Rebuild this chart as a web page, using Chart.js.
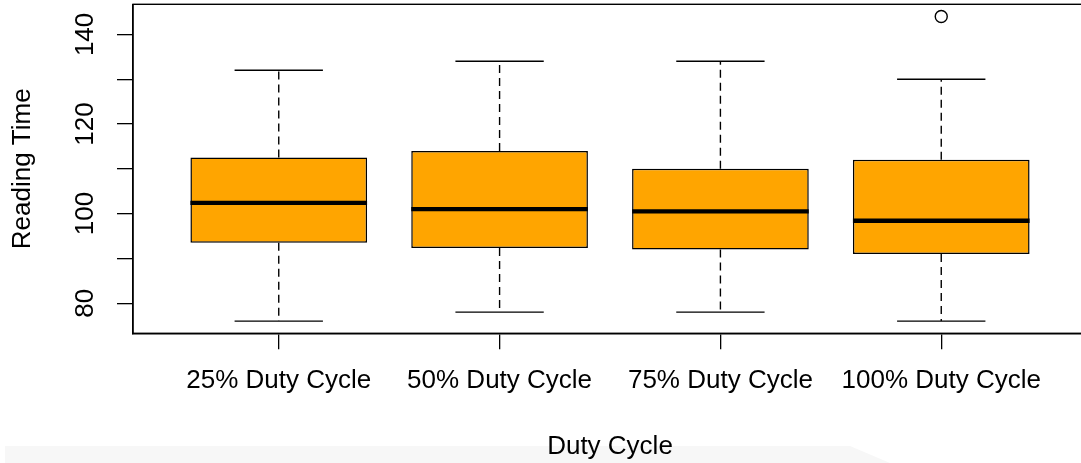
<!DOCTYPE html>
<html>
<head>
<meta charset="utf-8">
<script src="https://cdn.jsdelivr.net/npm/chart.js@4.4.1/dist/chart.umd.min.js"></script>
<style>
  html, body { margin: 0; padding: 0; background: #fff; overflow: hidden; width: 1081px; height: 463px; }
  #wrap { position: relative; width: 1081px; height: 463px; overflow: hidden; }
  #shade { position: absolute; left: 5px; top: 446px; width: 885px; height: 17px; background: #f7f7f7;
           clip-path: polygon(0 0, 845px 0, 885px 100%, 0 100%); }
  canvas { position: absolute; left: 0; top: 0; }
</style>
</head>
<body>
<div id="wrap">
  <div id="shade"></div>
  <canvas id="chart" width="1092" height="463"></canvas>
</div>
<script>
// Reading time by duty cycle: five-number summaries per group
const categories    = ['25% Duty Cycle', '50% Duty Cycle', '75% Duty Cycle', '100% Duty Cycle'];
const lowerWhisker  = [76, 78, 78, 76];
const firstQuartile = [93.5, 92.3, 92, 91];
const medians       = [102.4, 101, 100.5, 98.4];
const thirdQuartile = [112.5, 114, 110, 112];
const upperWhisker  = [132, 134, 134, 130];
const outliers      = [[], [], [], [144]];
const yTicks        = [80, 90, 100, 110, 120, 130, 140];
const yLabelTicks   = [80, 100, 120, 140];

const FONT = '"Liberation Sans", Arial, Helvetica, sans-serif';
const INK = '#000';
const BOX_FILL = '#FFA500';
const BOX_HALF = 0.4;   // half box width in category units
const CAP_HALF = 0.2;   // half whisker-cap width

// Axis ranges like base-graphics boxplot: data range padded by 4%
const allValues = lowerWhisker.concat(upperWhisker, outliers.flat());
const dMin = Math.min(...allValues), dMax = Math.max(...allValues);
const yPad = (dMax - dMin) * 0.04;
const xPad = categories.length * 0.04;

const positions = categories.map((_, i) => i + 1);

const boxData = positions.map((x, i) => ({ x, y: [firstQuartile[i], thirdQuartile[i]] }));
const medianData = positions.flatMap((x, i) => [
  { x: x - BOX_HALF, y: medians[i] }, { x: x + BOX_HALF, y: medians[i] }, { x: x + BOX_HALF, y: null }
]);
const whiskerData = positions.flatMap((x, i) => [
  { x, y: thirdQuartile[i] }, { x, y: upperWhisker[i] }, { x, y: null },
  { x, y: firstQuartile[i] }, { x, y: lowerWhisker[i] }, { x, y: null }
]);
const capData = positions.flatMap((x, i) => [
  { x: x - CAP_HALF, y: upperWhisker[i] }, { x: x + CAP_HALF, y: upperWhisker[i] }, { x: x + CAP_HALF, y: null },
  { x: x - CAP_HALF, y: lowerWhisker[i] }, { x: x + CAP_HALF, y: lowerWhisker[i] }, { x: x + CAP_HALF, y: null }
]);
const outlierData = positions.flatMap((x, i) => outliers[i].map(v => ({ x, y: v })));

// Plot frame and rotated y tick labels
const frameAndLabels = {
  id: 'frameAndLabels',
  afterDraw(chart) {
    const { ctx, chartArea: a, scales: { y } } = chart;
    ctx.save();
    ctx.strokeStyle = INK;
    ctx.lineWidth = 1.4;
    ctx.strokeRect(a.left, a.top, a.right - a.left, a.bottom - a.top);
    ctx.font = '26px ' + FONT;
    ctx.fillStyle = INK;
    ctx.textAlign = 'center';
    ctx.textBaseline = 'alphabetic';
    yLabelTicks.forEach(v => {
      const py = y.getPixelForValue(v);
      ctx.save();
      ctx.translate(y.right - 40, py);
      ctx.rotate(-Math.PI / 2);
      ctx.fillText(String(v), 0, 0);
      ctx.restore();
    });
    ctx.restore();
  }
};

new Chart(document.getElementById('chart'), {
  type: 'bar',
  data: {
    datasets: [
      { type: 'line', data: medianData, borderColor: INK, borderWidth: 4.3, borderCapStyle: 'butt',
        pointRadius: 0, pointHitRadius: 0, spanGaps: false, order: 0 },
      { type: 'scatter', data: outlierData, pointStyle: 'circle', pointRadius: 6,
        backgroundColor: 'rgba(0,0,0,0)', borderColor: INK, borderWidth: 1.4, order: 1 },
      { type: 'line', data: capData, borderColor: INK, borderWidth: 1.4,
        pointRadius: 0, pointHitRadius: 0, spanGaps: false, order: 2 },
      { type: 'line', data: whiskerData, borderColor: INK, borderWidth: 1.4, borderDash: [8, 5],
        pointRadius: 0, pointHitRadius: 0, spanGaps: false, order: 3 },
      { type: 'bar', data: boxData, backgroundColor: BOX_FILL, borderColor: INK, borderWidth: 1.5,
        borderSkipped: false, categoryPercentage: 1.0, barPercentage: 2 * BOX_HALF, order: 4 }
    ]
  },
  options: {
    responsive: false,
    animation: false,
    devicePixelRatio: 1,
    events: [],
    layout: { autoPadding: false, padding: { top: 4.3, left: 0, right: 5, bottom: 0 } },
    plugins: { legend: { display: false }, tooltip: { enabled: false } },
    scales: {
      x: {
        type: 'linear',
        offset: false,
        min: 0.5 - xPad,
        max: categories.length + 0.5 + xPad,
        afterBuildTicks: s => { s.ticks = positions.map(v => ({ value: v })); },
        afterFit: s => { s.height = 129.7; },
        ticks: {
          autoSkip: false, maxRotation: 0, minRotation: 0, padding: 16,
          color: INK, font: { family: FONT, size: 26 },
          callback: v => categories[v - 1] ?? ''
        },
        grid: { display: true, offset: false, drawOnChartArea: false, drawTicks: true, tickLength: 16, color: INK, lineWidth: 1.3 },
        border: { display: true, color: INK, width: 1.4 },
        title: { display: true, text: 'Duty Cycle', color: INK, font: { family: FONT, size: 26 },
                 padding: { top: 0, bottom: 0.2 } }
      },
      y: {
        type: 'linear',
        min: dMin - yPad,
        max: dMax + yPad,
        afterBuildTicks: s => { s.ticks = yTicks.map(v => ({ value: v })); },
        afterFit: s => { s.width = 133; },
        ticks: { display: false },
        grid: { display: true, drawOnChartArea: false, drawTicks: true, tickLength: 16, color: INK, lineWidth: 1.3 },
        border: { display: true, color: INK, width: 1.4 },
        title: { display: true, text: 'Reading Time', color: INK, font: { family: FONT, size: 26 },
                 padding: { top: 7.4, bottom: 0 } }
      }
    }
  },
  plugins: [frameAndLabels]
});
</script>
</body>
</html>
